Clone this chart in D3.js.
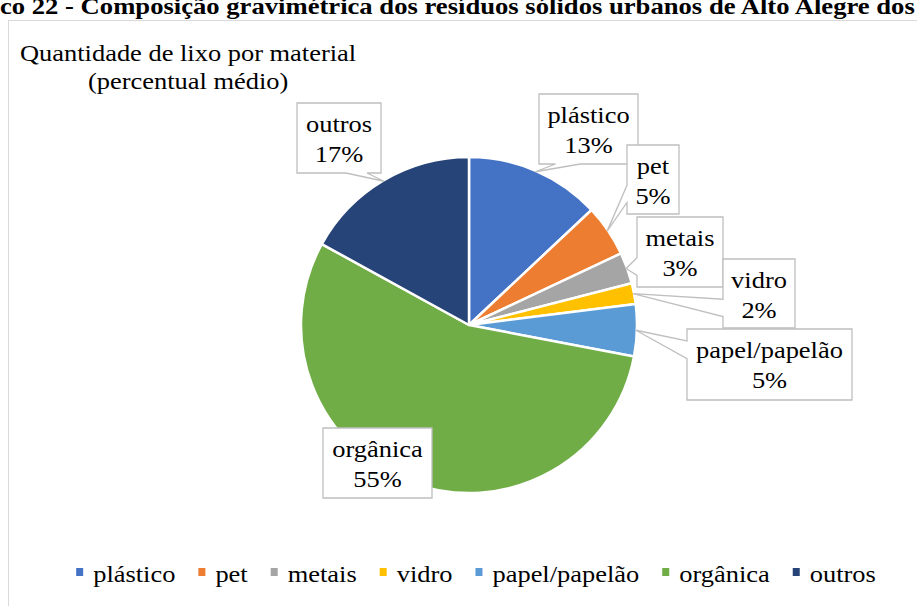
<!DOCTYPE html>
<html>
<head>
<meta charset="utf-8">
<script src="https://cdn.jsdelivr.net/npm/d3@7/dist/d3.min.js"></script>
<style>
  html, body { margin: 0; padding: 0; background: #fff; overflow: hidden; }
  svg { display: block; }
</style>
</head>
<body>
<svg id="chart" width="917" height="606"></svg>
<script>
// ---- data ----
const categories = ["plástico", "pet", "metais", "vidro", "papel/papelão", "orgânica", "outros"];
const percentValues = [13, 5, 3, 2, 5, 55, 17];
const sliceColors = ["#4472C4", "#ED7D31", "#A5A5A5", "#FFC000", "#5B9BD5", "#70AD47", "#264478"];
const chartTitle = ["Quantidade de lixo por material", "(percentual médio)"];
const figureCaption = "Gráfico 22 - Composição gravimétrica dos resíduos sólidos urbanos de Alto Alegre dos Parecis";

// ---- layout ----
const serif = "'Liberation Serif', 'Times New Roman', Times, serif";
const center = { x: 469, y: 325 };
const radius = 168;
const fontSize = 23;
const stretch = 1.15;           // horizontal widening of the serif text
// callout boxes, in category order
const calloutBoxes = [
  { x: 539, y: 94,  w: 99,  h: 70 },
  { x: 627, y: 145, w: 52,  h: 69 },
  { x: 637, y: 217, w: 86,  h: 70 },
  { x: 723, y: 259, w: 72,  h: 69 },
  { x: 687, y: 329, w: 165, h: 71 },
  { x: 323, y: 428, w: 109, h: 70 },
  { x: 297, y: 103, w: 84,  h: 70 }
];

const svg = d3.select("#chart");

// stretched serif text helper
function sText(g, str, x, y, opts = {}) {
  const t = g.append("text")
    .attr("transform", `translate(${x},${y}) scale(${opts.sx || stretch},1)`)
    .attr("text-anchor", opts.anchor || "start")
    .attr("font-family", serif)
    .attr("font-size", (opts.size || fontSize) + "px")
    .attr("fill", "#000")
    .text(str);
  if (opts.weight) t.attr("font-weight", opts.weight);
  return t;
}

// caption above the chart area (runs past the page edges)
const capG = svg.append("g");
const capOpts = { weight: "bold", size: 24, sx: 1.11 };
const probe = sText(capG, "Gráfi", 0, 0, capOpts);
const prefixW = probe.node().getComputedTextLength() * capOpts.sx;
probe.remove();
sText(capG, figureCaption, -prefixW, 14, capOpts);

// chart frame
svg.append("rect")
  .attr("x", 8.5).attr("y", 20.5)
  .attr("width", 1200).attr("height", 800)
  .attr("fill", "#fff")
  .attr("stroke", "#D9D9D9").attr("stroke-width", 1);

// title
sText(svg, chartTitle[0], 20, 61);
sText(svg, chartTitle[1], 88, 89);

// pie
const data = categories.map((c, i) => ({ name: c, value: percentValues[i], color: sliceColors[i] }));
const pie = d3.pie().value(d => d.value).sort(null);
const arcs = pie(data);
const arc = d3.arc().innerRadius(0).outerRadius(radius);
const tipArc = d3.arc().innerRadius(radius - 1).outerRadius(radius - 1);

const pieG = svg.append("g").attr("transform", `translate(${center.x},${center.y})`);
pieG.selectAll("path.slice")
  .data(arcs)
  .join("path")
  .attr("class", "slice")
  .attr("d", arc)
  .attr("fill", d => d.data.color)
  .attr("stroke", "#fff")
  .attr("stroke-width", 2.5)
  .attr("stroke-linejoin", "round");

// wedge-shaped callout outline around a label box
function calloutPath(b, tip) {
  const x0 = b.x, y0 = b.y, x1 = b.x + b.w, y1 = b.y + b.h;
  const inside = tip.x >= x0 && tip.x <= x1 && tip.y >= y0 && tip.y <= y1;
  if (inside) return `M${x0},${y0}H${x1}V${y1}H${x0}Z`;
  const cx = b.x + b.w / 2, cy = b.y + b.h / 2;
  const dxn = (tip.x - cx) / b.w, dyn = (tip.y - cy) / b.h;
  const p = [];
  const T = `${tip.x},${tip.y}`;
  if (Math.abs(dxn) > Math.abs(dyn)) {
    const ya = tip.y < cy ? y0 + b.h * 2 / 12 : y0 + b.h * 7 / 12;
    const yb = tip.y < cy ? y0 + b.h * 5 / 12 : y0 + b.h * 10 / 12;
    if (dxn > 0) {
      p.push(`M${x0},${y0}`, `L${x1},${y0}`, `L${x1},${ya}`, `L${T}`, `L${x1},${yb}`, `L${x1},${y1}`, `L${x0},${y1}`, "Z");
    } else {
      p.push(`M${x0},${y0}`, `L${x1},${y0}`, `L${x1},${y1}`, `L${x0},${y1}`, `L${x0},${yb}`, `L${T}`, `L${x0},${ya}`, "Z");
    }
  } else {
    const xa = tip.x < cx ? x0 + b.w * 2 / 12 : x0 + b.w * 7 / 12;
    const xb = tip.x < cx ? x0 + b.w * 5 / 12 : x0 + b.w * 10 / 12;
    if (dyn > 0) {
      p.push(`M${x0},${y0}`, `L${x1},${y0}`, `L${x1},${y1}`, `L${xb},${y1}`, `L${T}`, `L${xa},${y1}`, `L${x0},${y1}`, "Z");
    } else {
      p.push(`M${x0},${y0}`, `L${xa},${y0}`, `L${T}`, `L${xb},${y0}`, `L${x1},${y0}`, `L${x1},${y1}`, `L${x0},${y1}`, "Z");
    }
  }
  return p.join("");
}

// data labels
const labelG = svg.append("g");
arcs.forEach((d, i) => {
  const b = calloutBoxes[i];
  const c = tipArc.centroid(d);
  const tip = { x: center.x + c[0], y: center.y + c[1] };
  labelG.append("path")
    .attr("d", calloutPath(b, tip))
    .attr("fill", "#fff")
    .attr("stroke", "#BFBFBF")
    .attr("stroke-width", 1.3);
  const mx = b.x + b.w / 2;
  sText(labelG, d.data.name, mx, b.y + 29, { anchor: "middle" });
  sText(labelG, d3.format("d")(d.data.value) + "%", mx, b.y + 59, { anchor: "middle" });
});

// legend
const legG = svg.append("g");
let lx = 0;
data.forEach(d => {
  const g = legG.append("g").attr("transform", `translate(${lx},0)`);
  g.append("rect").attr("x", 0).attr("y", -14).attr("width", 7).attr("height", 8).attr("fill", d.color);
  const t = sText(g, d.name, 17, 0, { size: 23 });
  const tw = t.node().getComputedTextLength() * stretch;
  lx += 17 + tw + 23;
});
const legendW = lx - 23;
legG.attr("transform", `translate(${476 - legendW / 2},582)`);
</script>
</body>
</html>
